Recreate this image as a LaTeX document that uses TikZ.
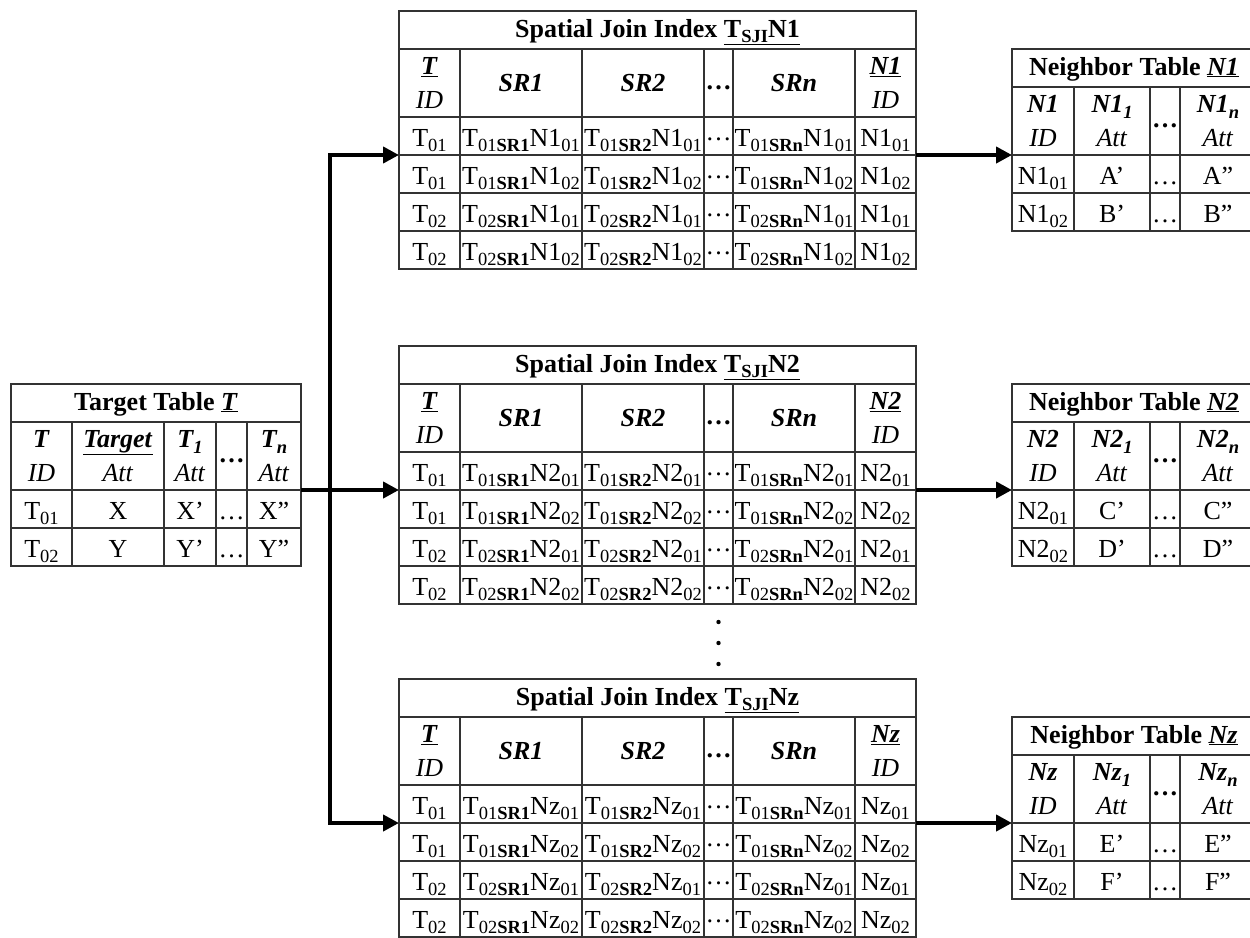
\documentclass[tikz,border=0pt]{standalone}
\usepackage{fontspec}
\setmainfont{Liberation Serif}
\usetikzlibrary{arrows.meta,positioning}

% subscripts and dots
\newcommand{\sbs}[1]{\raisebox{-0.22em}{\fontsize{18.5}{18.5}\selectfont #1}}
\newcommand{\ldts}{\strut\ldots}
\newcommand{\cdts}{\raisebox{0.23em}{\ldots}}

% spatial join index table: name, neighbor, x, y
\newcommand{\sjitable}[4]{%
  \node[tcell, anchor=north west, minimum width=517pt] (#1-t) at (#3,#4)
    {\bfseries Spatial Join Index \underline{T\sbs{SJI}#2}};
  \node[hcell, anchor=north west, minimum width=61pt] (#1-0-1) at (#1-t.south west)
    {\underline{\textbf{\textit{T}}}\\\textit{ID}};
  \node[hcell, right=0pt of #1-0-1, minimum width=122pt] (#1-0-2) {\textbf{\textit{SR1}}};
  \node[hcell, right=0pt of #1-0-2, minimum width=122pt] (#1-0-3) {\textbf{\textit{SR2}}};
  \node[hcell, right=0pt of #1-0-3, minimum width=29pt] (#1-0-4) {\textbf{\ldts}};
  \node[hcell, right=0pt of #1-0-4, minimum width=122pt] (#1-0-5) {\textbf{\textit{SRn}}};
  \node[hcell, right=0pt of #1-0-5, minimum width=61pt] (#1-0-6)
    {\underline{\textbf{\textit{#2}}}\\\textit{ID}};
  \foreach \r/\p/\a/\b in {1/0/01/01, 2/1/01/02, 3/2/02/01, 4/3/02/02} {
    \node[dcell, anchor=north west, minimum width=61pt] (#1-\r-1) at (#1-\p-1.south west) {T\sbs{\a}};
    \node[dcell, right=0pt of #1-\r-1, minimum width=122pt] (#1-\r-2) {T\sbs{\a\textbf{SR1}}#2\sbs{\b}};
    \node[dcell, right=0pt of #1-\r-2, minimum width=122pt] (#1-\r-3) {T\sbs{\a\textbf{SR2}}#2\sbs{\b}};
    \node[dcell, right=0pt of #1-\r-3, minimum width=29pt] (#1-\r-4) {\cdts};
    \node[dcell, right=0pt of #1-\r-4, minimum width=122pt] (#1-\r-5) {T\sbs{\a\textbf{SRn}}#2\sbs{\b}};
    \node[dcell, right=0pt of #1-\r-5, minimum width=61pt] (#1-\r-6) {#2\sbs{\b}};
  }
}

% neighbor table: name, neighbor, x, y, first value, second value
\newcommand{\nbtable}[6]{%
  \node[tcell, anchor=north west, minimum width=244pt] (#1-t) at (#3,#4)
    {\bfseries Neighbor Table \underline{\textit{#2}}};
  \node[hcell, anchor=north west, minimum width=62pt] (#1-0-1) at (#1-t.south west)
    {\textbf{\textit{#2}}\\\textit{ID}};
  \node[hcell, right=0pt of #1-0-1, minimum width=76pt] (#1-0-2) {\textbf{\textit{#2\sbs{1}}}\\\textit{Att}};
  \node[hcell, right=0pt of #1-0-2, minimum width=30pt] (#1-0-3) {\textbf{\ldts}};
  \node[hcell, right=0pt of #1-0-3, minimum width=76pt] (#1-0-4) {\textbf{\textit{#2\sbs{n}}}\\\textit{Att}};
  \foreach \r/\p/\b/\v in {1/0/01/#5, 2/1/02/#6} {
    \node[dcell, anchor=north west, minimum width=62pt] (#1-\r-1) at (#1-\p-1.south west) {#2\sbs{\b}};
    \node[dcell, right=0pt of #1-\r-1, minimum width=76pt] (#1-\r-2) {\v’};
    \node[dcell, right=0pt of #1-\r-2, minimum width=30pt] (#1-\r-3) {\ldots};
    \node[dcell, right=0pt of #1-\r-3, minimum width=76pt] (#1-\r-4) {\v”};
  }
}

\begin{document}
\begin{tikzpicture}[x=1pt, y=-1pt, font=\fontsize{26}{34}\selectfont]
  % Define styles
  \tikzset{
    cell/.style={draw=black!80, line width=1.4pt, inner sep=0pt, outer sep=0pt,
      minimum height=38pt, align=center},
    tcell/.style={cell, text height=25pt, text depth=11pt},
    hcell/.style={cell, minimum height=68pt},
    dcell/.style={cell, text height=28pt, text depth=8pt},
    flow/.style={draw, line width=4pt, -{Triangle[length=16pt,width=16pt]}}
  }
  \useasboundingbox (0,0) rectangle (1250,937);

  % Target table
  \node[tcell, anchor=north west, minimum width=290pt] (tt-t) at (11,384)
    {\bfseries Target Table \underline{\textit{T}}};
  \node[hcell, anchor=north west, minimum width=61pt] (tt-0-1) at (tt-t.south west)
    {\textbf{\textit{T}}\\\textit{ID}};
  \node[hcell, right=0pt of tt-0-1, minimum width=92pt] (tt-0-2)
    {\underline{\textbf{\textit{Target}}}\\\textit{Att}};
  \node[hcell, right=0pt of tt-0-2, minimum width=52pt] (tt-0-3) {\textbf{\textit{T\sbs{1}}}\\\textit{Att}};
  \node[hcell, right=0pt of tt-0-3, minimum width=31pt] (tt-0-4) {\textbf{\ldts}};
  \node[hcell, right=0pt of tt-0-4, minimum width=54pt] (tt-0-5) {\textbf{\textit{T\sbs{n}}}\\\textit{Att}};
  \foreach \r/\p/\a/\v in {1/0/01/X, 2/1/02/Y} {
    \node[dcell, anchor=north west, minimum width=61pt] (tt-\r-1) at (tt-\p-1.south west) {T\sbs{\a}};
    \node[dcell, right=0pt of tt-\r-1, minimum width=92pt] (tt-\r-2) {\v};
    \node[dcell, right=0pt of tt-\r-2, minimum width=52pt] (tt-\r-3) {\v’};
    \node[dcell, right=0pt of tt-\r-3, minimum width=31pt] (tt-\r-4) {\ldots};
    \node[dcell, right=0pt of tt-\r-4, minimum width=54pt] (tt-\r-5) {\v”};
  }

  % Spatial join indexes
  \sjitable{s1}{N1}{399}{11}
  \sjitable{s2}{N2}{399}{346}
  \sjitable{sz}{Nz}{399}{679}
  \foreach \y in {622,643,664} \fill (718.5,\y) circle (2.2pt);

  % Neighbor tables
  \nbtable{n1}{N1}{1012}{49}{A}{B}
  \nbtable{n2}{N2}{1012}{384}{C}{D}
  \nbtable{nz}{Nz}{1012}{717}{E}{F}

  % Draw arrows
  \coordinate (trunk) at (330,490);
  \path[flow] (tt-0-5.south east) -- (s2-1-1.south west);
  \path[flow] (trunk) |- (s1-1-1.south west);
  \path[flow] (trunk) |- (sz-1-1.south west);
  \path[flow] (s1-1-6.south east) -- (n1-0-1.south west);
  \path[flow] (s2-1-6.south east) -- (n2-0-1.south west);
  \path[flow] (sz-1-6.south east) -- (nz-0-1.south west);
\end{tikzpicture}
\end{document}
